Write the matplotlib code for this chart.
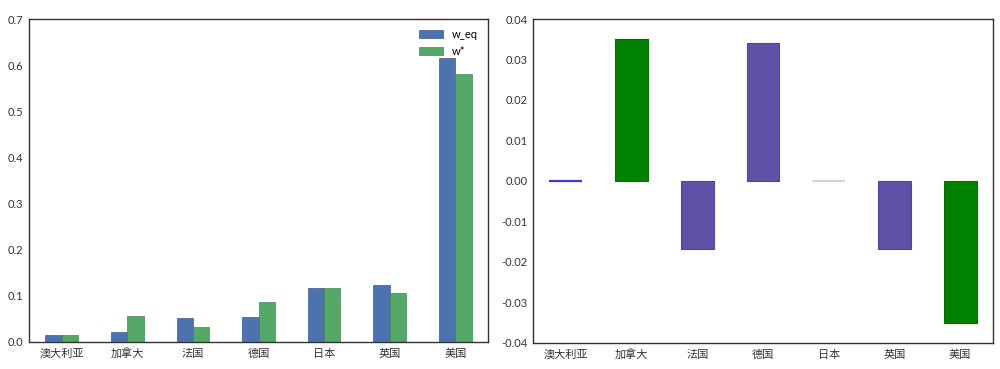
import matplotlib
matplotlib.use("Agg")
import matplotlib.pyplot as plt
import numpy as np

plt.rcParams['font.family'] = ['Lato', 'Noto Sans CJK SC', 'DejaVu Sans']

countries = ['澳大利亚', '加拿大', '法国', '德国', '日本', '英国', '美国']
w_eq = [0.016, 0.022, 0.052, 0.054, 0.116, 0.124, 0.616]
w_star = [0.016, 0.056, 0.033, 0.087, 0.116, 0.106, 0.580]
diff = [0.0, 0.035, -0.0168, 0.034, 0.0, -0.0168, -0.035]
diff_colors = ['#3a3ad8', '#008000', '#6050a8', '#6050a8', '#d4d4d4', '#6050a8', '#008000']
diff_edges = ['#3a3ad8', '#0a6a0a', '#54469a', '#54469a', '#d4d4d4', '#54469a', '#0a6a0a']
diff_lw = [1.6, 0.8, 0.8, 0.8, 1.6, 0.8, 0.8]

fig = plt.figure(figsize=(10, 3.69), dpi=100)
ax1 = fig.add_axes([0.029, 0.0732, 0.459, 0.8753])
ax2 = fig.add_axes([0.533, 0.0705, 0.460, 0.878])

x = np.arange(len(countries))
w = 0.25
ax1.bar(x - w/2, w_eq, w, color='#4c72b0', edgecolor='#3a5a90', linewidth=0.5, label='w_eq')
ax1.bar(x + w/2, w_star, w, color='#55a868', edgecolor='#3f8a50', linewidth=0.5, label='w*')
ax1.set_xlim(-0.5, len(countries) - 0.5)
ax1.set_ylim(0, 0.7)
ax1.set_yticks(np.arange(0, 0.71, 0.1))
ax1.set_yticklabels([f'{v:.1f}' for v in np.arange(0, 0.71, 0.1)])
ax1.set_xticks(x)
ax1.set_xticklabels(countries)
ax1.legend(loc='upper right', frameon=False, fontsize=8, handlelength=2.2)

ax2.bar(x, diff, 0.5, color=diff_colors, edgecolor=diff_edges, linewidth=diff_lw)
ax2.set_xlim(-0.5, len(countries) - 0.5)
ax2.set_ylim(-0.04, 0.04)
yt = np.arange(-0.04, 0.041, 0.01)
ax2.set_yticks(yt)
ax2.set_yticklabels([f'{v:.2f}' if abs(v) > 1e-9 else '0.00' for v in yt])
ax2.set_xticks(x)
ax2.set_xticklabels(countries)

for ax in (ax1, ax2):
    ax.tick_params(length=0, labelsize=8, colors='#333333', pad=4)
    for s in ax.spines.values():
        s.set_color('#333333')
        s.set_linewidth(1.0)

fig.savefig('out.png', dpi=100)
